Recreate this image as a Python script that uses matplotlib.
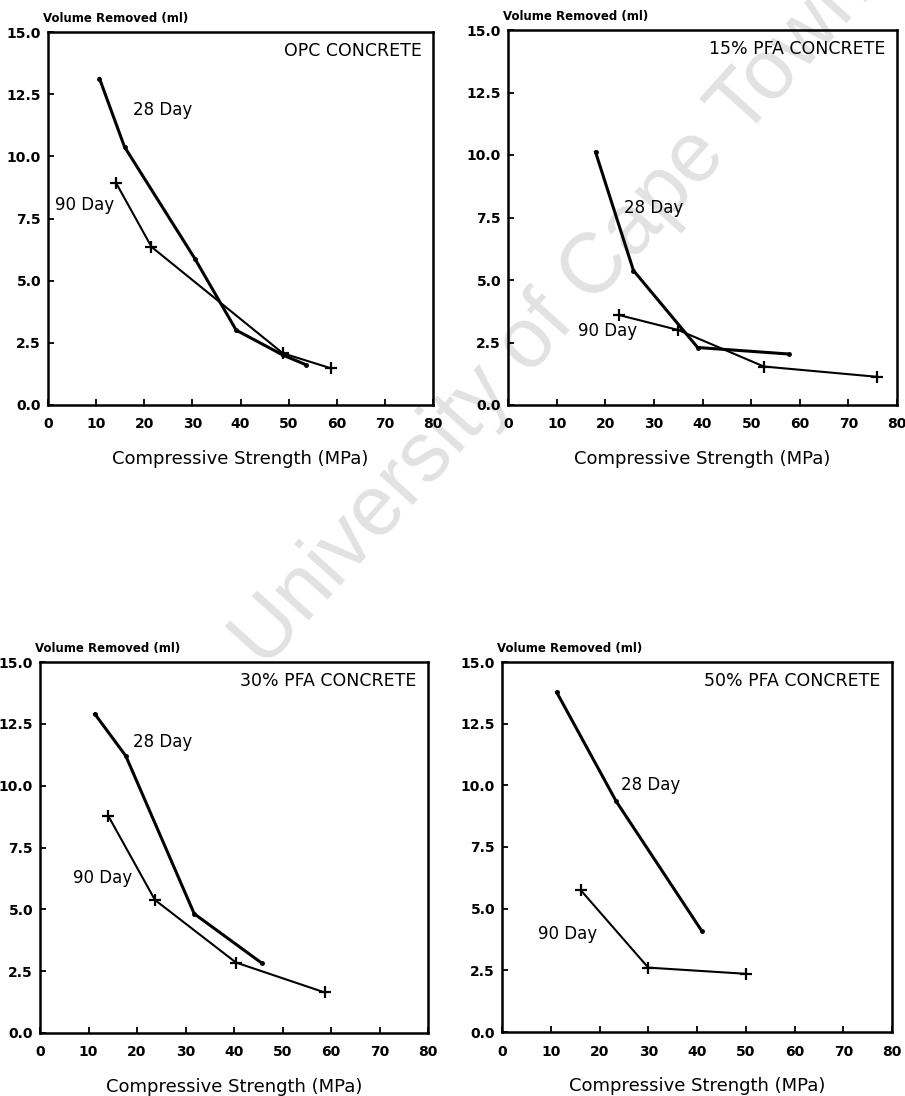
import matplotlib
matplotlib.use("Agg")
import matplotlib.pyplot as plt

# Abrasion test results: volume removed vs compressive strength
opc_28_x = [10.7, 15.9, 30.5, 39.1, 48.8, 53.7]
opc_28_y = [13.13, 10.38, 5.89, 3.01, 2.01, 1.61]
opc_90_x = [14.2, 21.5, 48.8, 58.9]
opc_90_y = [8.91, 6.36, 2.08, 1.47]

pfa15_28_x = [18.0, 25.8, 39.0, 57.7]
pfa15_28_y = [10.12, 5.38, 2.30, 2.04]
pfa15_90_x = [22.8, 35.0, 52.6, 75.8]
pfa15_90_y = [3.60, 3.00, 1.54, 1.13]

pfa30_28_x = [11.3, 17.7, 31.8, 45.7]
pfa30_28_y = [12.90, 11.20, 4.82, 2.83]
pfa30_90_x = [14.1, 23.7, 40.4, 58.7]
pfa30_90_y = [8.77, 5.38, 2.85, 1.64]

pfa50_28_x = [11.2, 23.4, 41.0]
pfa50_28_y = [13.78, 9.36, 4.09]
pfa50_90_x = [16.2, 30.0, 50.0]
pfa50_90_y = [5.74, 2.61, 2.36]

panel_titles = ["OPC CONCRETE", "15% PFA CONCRETE", "30% PFA CONCRETE", "50% PFA CONCRETE"]
series_names = ["28 Day", "90 Day"]
x_ticks = [0, 10, 20, 30, 40, 50, 60, 70, 80]
y_ticks = [0.0, 2.5, 5.0, 7.5, 10.0, 12.5, 15.0]
x_title = "Compressive Strength (MPa)"
y_title = "Volume Removed (ml)"

# where the "28 Day" / "90 Day" captions sit, in data units
label_28 = [(17.7, 11.85), (23.9, 7.88), (19.2, 11.77), (24.5, 10.0)]
label_90 = [(1.4, 8.04), (14.4, 2.94), (6.9, 6.26), (7.4, 3.99)]

panels = [
    (opc_28_x, opc_28_y, opc_90_x, opc_90_y),
    (pfa15_28_x, pfa15_28_y, pfa15_90_x, pfa15_90_y),
    (pfa30_28_x, pfa30_28_y, pfa30_90_x, pfa30_90_y),
    (pfa50_28_x, pfa50_28_y, pfa50_90_x, pfa50_90_y),
]

# axes rectangles (left, top, right, bottom) in pixels
W, H = 905, 1096
boxes_px = [(48, 32, 433, 405), (508, 30, 897, 405), (40, 662, 428, 1033), (502, 662, 892, 1032)]

fig = plt.figure(figsize=(W / 100, H / 100), dpi=100)
fig.patch.set_facecolor("white")

# faint diagonal library stamp across the page
fig.text(0.612, 0.711, "University of Cape Town", rotation=48, fontsize=61,
         color="#e2e2e2", family="Liberation Sans", ha="center", va="center",
         rotation_mode="anchor", zorder=-5)

for i, (x28, y28, x90, y90) in enumerate(panels):
    l, t, r, b = boxes_px[i]
    ax = fig.add_axes([l / W, 1 - b / H, (r - l) / W, (b - t) / H])
    ax.set_facecolor("none")
    ax.plot(x28, y28, color="black", lw=2.2, marker="o", ms=2.5,
            solid_joinstyle="round", zorder=3)
    ax.plot(x90, y90, color="black", lw=1.5, marker="+", ms=8, mew=1.6, zorder=3)
    ax.set_xlim(0, 80)
    ax.set_ylim(0, 15)
    ax.set_xticks(x_ticks)
    ax.set_xticklabels([str(v) for v in x_ticks])
    ax.set_yticks(y_ticks)
    ax.set_yticklabels([f"{v:.1f}" for v in y_ticks])
    ax.tick_params(direction="in", length=4, width=1.3, labelsize=10)
    ax.tick_params(axis="x", pad=9)
    ax.tick_params(axis="y", pad=5)
    for lab in ax.get_xticklabels() + ax.get_yticklabels():
        lab.set_fontweight("bold")
    for sp in ax.spines.values():
        sp.set_linewidth(1.8)
    ax.set_xlabel(x_title, fontsize=13, labelpad=13)
    ax.text(-0.012, 1.018, y_title, transform=ax.transAxes, fontsize=8.5,
            fontweight="bold", ha="left", va="bottom")
    ax.text(0.97, 0.95, panel_titles[i], transform=ax.transAxes, fontsize=12.5,
            ha="right", va="center")
    ax.text(label_28[i][0], label_28[i][1], series_names[0], fontsize=12,
            ha="left", va="center")
    ax.text(label_90[i][0], label_90[i][1], series_names[1], fontsize=12,
            ha="left", va="center")

fig.savefig("out.png", dpi=100)
